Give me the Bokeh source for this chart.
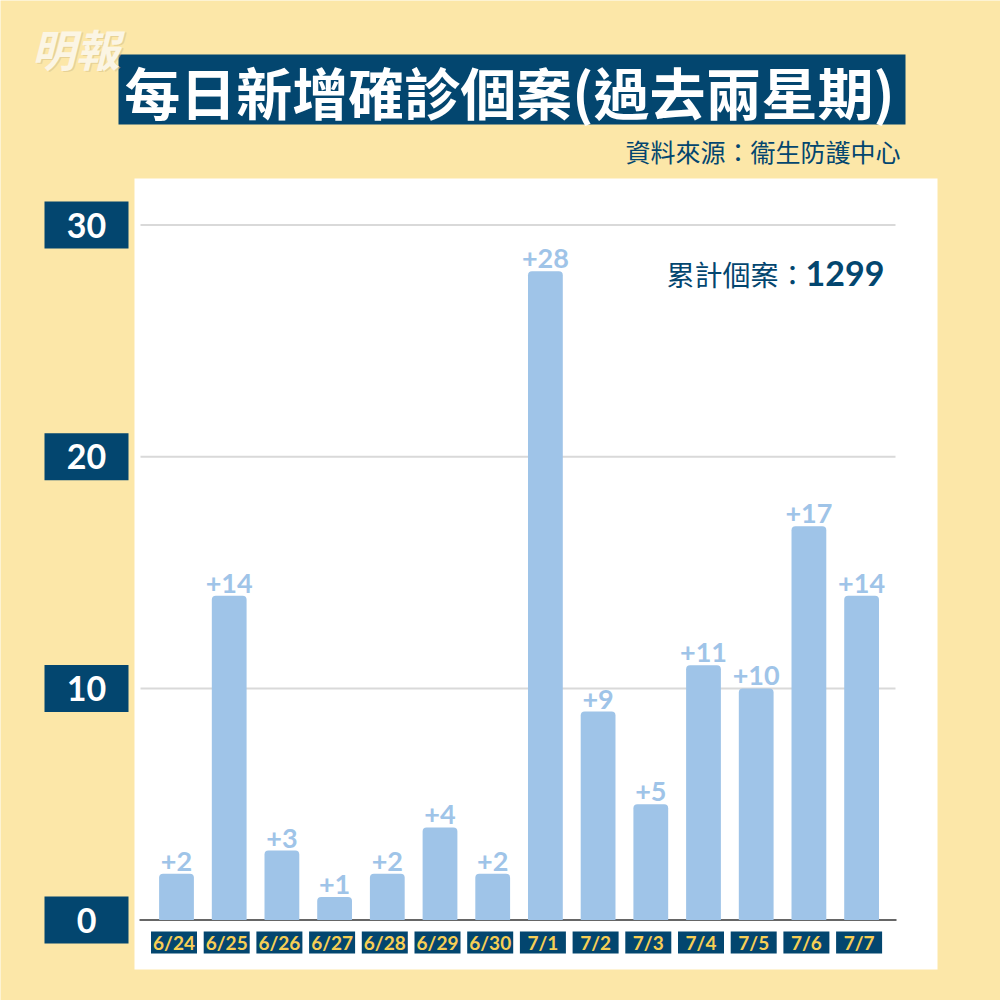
from bokeh.plotting import figure
from bokeh.models import Range1d, ColumnDataSource
from bokeh.core.properties import value
from bokeh.embed import file_html
from bokeh.resources import INLINE

# ---------------- data ----------------
dates = ["6/24", "6/25", "6/26", "6/27", "6/28", "6/29", "6/30",
         "7/1", "7/2", "7/3", "7/4", "7/5", "7/6", "7/7"]
new_cases = [2, 14, 3, 1, 2, 4, 2, 28, 9, 5, 11, 10, 17, 14]
y_ticks = [0, 10, 20, 30]
y_tick_labels = ["0", "10", "20", "30"]
title_text = "每日新增確診個案(過去兩星期)"
source_text = "資料來源：衞生防護中心"
total_label = "累計個案："
total_value = "1299"
logo_text = "明報"

# ---------------- styling ----------------
BG = "#FCE7A8"
NAVY = "#03466F"
BAR = "#9FC4E8"
YELLOW = "#F7CF55"
CJK = "Noto Sans CJK TC"
NUM = "Lato"

# pixel geometry of the canvas (layout only)
BAR0_PX = 176.0
STEP_PX = 52.7
Y0_PX = 919.6
PX_PER_UNIT = 23.17


def X(px):
    return (px - BAR0_PX) / STEP_PX


def Y(py):
    return (Y0_PX - py) / PX_PER_UNIT


p = figure(width=1000, height=1000, output_backend="svg", toolbar_location=None,
           x_range=Range1d(X(0), X(1000)), y_range=Range1d(Y(1000), Y(0)),
           x_axis_location=None, y_axis_location=None, min_border=0)
p.background_fill_color = BG
p.border_fill_color = BG
p.outline_line_color = None
p.xgrid.visible = False
p.ygrid.visible = False

# white panel
p.quad(left=[X(134)], right=[X(937)], top=[Y(178)], bottom=[Y(969)],
       fill_color="white", line_color=None)

# gridlines and baseline
grid_vals = [t for t in y_ticks if t > 0]
p.segment(x0=[X(140)] * len(grid_vals), x1=[X(895)] * len(grid_vals),
          y0=grid_vals, y1=grid_vals, line_color="#D9D9D9", line_width=2)
p.segment(x0=[X(139)], x1=[X(896)], y0=[0], y1=[0], line_color="#666666", line_width=2)

# bars
idx = list(range(len(dates)))
src = ColumnDataSource(dict(x=idx, top=new_cases,
                            lab=["+%d" % v for v in new_cases],
                            date=dates,
                            bx=[i - 2.5 / STEP_PX for i in idx]))
p.vbar(x="x", top="top", bottom=0, width=0.66, source=src,
       fill_color=BAR, line_color=None, border_radius=(4, 4, 0, 0))

# value labels
p.text(x="x", y="top", text="lab", source=src, text_align="center",
       text_baseline="bottom", y_offset=-3, text_color=BAR,
       text_font=value(NUM), text_font_style="bold", text_font_size="27px")

# x category labels in boxes
p.rect(x="bx", y=Y(942), width=46, height=22, width_units="screen",
       height_units="screen", source=src, fill_color=NAVY, line_color=None)
p.text(x="bx", y=Y(942), text="date", source=src, text_align="center",
       text_baseline="middle", text_color=YELLOW, text_font=value(NUM),
       text_font_style="bold", text_font_size="19px")

# y tick labels in boxes
ysrc = ColumnDataSource(dict(y=y_ticks, lab=y_tick_labels, x=[X(86)] * len(y_ticks)))
p.rect(x="x", y="y", width=84, height=47, width_units="screen",
       height_units="screen", source=ysrc, fill_color=NAVY, line_color=None)
p.text(x="x", y="y", text="lab", source=ysrc, text_align="center",
       text_baseline="middle", text_color="white", text_font=value(NUM),
       text_font_style="bold", text_font_size="34px")

# title box
p.quad(left=[X(118)], right=[X(905)], top=[Y(54)], bottom=[Y(124)],
       fill_color=NAVY, line_color=None)
p.text(x=[X(509)], y=[Y(90)], text=[title_text], text_align="center",
       text_baseline="middle", text_color="white", text_font=value(CJK),
       text_font_style="bold", text_font_size="56px")

# logo
p.text(x=[X(75) + 1.5 / STEP_PX], y=[Y(47) - 1.5 / PX_PER_UNIT], text=[logo_text],
       text_align="center", text_baseline="middle", text_color="#D9C48A",
       text_alpha=0.6, text_font=value(CJK), text_font_style="bold italic",
       text_font_size="44px")
p.text(x=[X(75)], y=[Y(47)], text=[logo_text], text_align="center",
       text_baseline="middle", text_color="#FBF5E4", text_font=value(CJK),
       text_font_style="bold italic", text_font_size="44px")

# source
p.text(x=[X(900)], y=[Y(150)], text=[source_text], text_align="right",
       text_baseline="middle", text_color=NAVY, text_font=value(CJK),
       text_font_size="25px")

# total
p.text(x=[X(884)], y=[Y(273)], text=[total_value], text_align="right",
       text_baseline="middle", text_color=NAVY, text_font=value(NUM),
       text_font_style="bold", text_font_size="34px")
p.text(x=[X(806)], y=[Y(273)], text=[total_label], text_align="right",
       text_baseline="middle", text_color=NAVY, text_font=value(CJK),
       text_font_size="28px")

open("out.html", "w").write(file_html(p, INLINE))
